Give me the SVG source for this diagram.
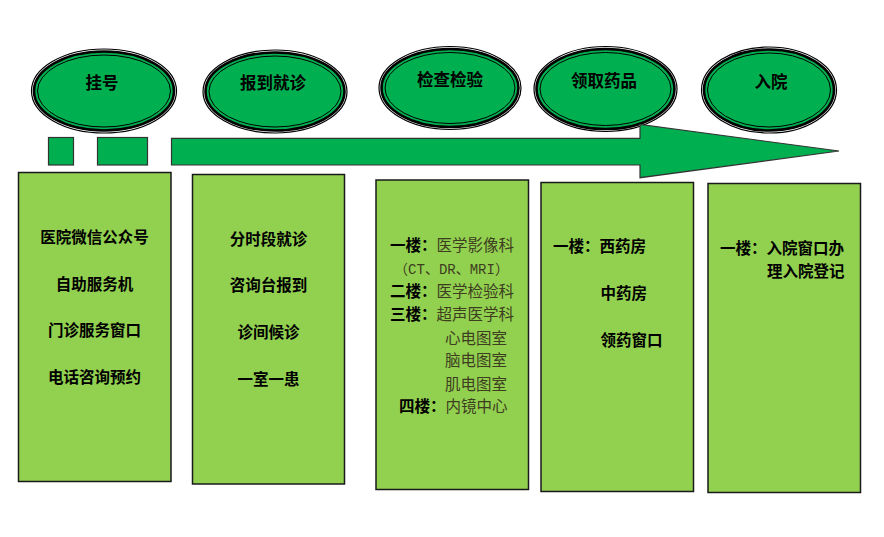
<svg xmlns="http://www.w3.org/2000/svg" width="884" height="537" viewBox="0 0 884 537">
<style>
.e0{fill:#fff;stroke:#000;stroke-width:1.2}
.e1{fill:#00B050;stroke:#000;stroke-width:2.6}
.e2{fill:#00B050;stroke:#000;stroke-width:1}
.et{font-family:"Noto Sans CJK SC",sans-serif;font-weight:bold;font-size:16.5px;fill:#000;text-anchor:middle}
.box{fill:#92D050;stroke:#1a1a1a;stroke-width:1.5}
.bt{font-family:"Noto Sans CJK SC",sans-serif;font-weight:bold;font-size:15.5px;fill:#000}
.c{text-anchor:middle}
.r{font-weight:normal;fill:#3d3d1f}
.dk{fill:#00B050;stroke:#333;stroke-width:1.2}
</style>
<rect width="884" height="537" fill="#fff"/>

<g id="node-guahao">
<ellipse class="e0" cx="104" cy="91" rx="72.5" ry="42"/>
<ellipse class="e1" cx="104" cy="91" rx="70" ry="39.5"/>
<ellipse class="e2" cx="104" cy="91" rx="66.5" ry="36"/>
<text class="et" x="102" y="88.5">挂号</text>
</g>
<g id="node-baodao">
<ellipse class="e0" cx="275" cy="91.5" rx="72" ry="41.5"/>
<ellipse class="e1" cx="275" cy="91.5" rx="69.5" ry="39"/>
<ellipse class="e2" cx="275" cy="91.5" rx="66" ry="35.5"/>
<text class="et" x="273" y="88.5">报到就诊</text>
</g>
<g id="node-jiancha">
<ellipse class="e0" cx="450" cy="88" rx="71" ry="41.5"/>
<ellipse class="e1" cx="450" cy="88" rx="68.5" ry="39"/>
<ellipse class="e2" cx="450" cy="88" rx="65" ry="35.5"/>
<text class="et" x="450" y="86">检查检验</text>
</g>
<g id="node-lingqu">
<ellipse class="e0" cx="605.5" cy="89" rx="71.5" ry="42.5"/>
<ellipse class="e1" cx="605.5" cy="89" rx="69" ry="40"/>
<ellipse class="e2" cx="605.5" cy="89" rx="65.5" ry="36.5"/>
<text class="et" x="604" y="87">领取药品</text>
</g>
<g id="node-ruyuan">
<ellipse class="e0" cx="769" cy="90" rx="67.5" ry="43"/>
<ellipse class="e1" cx="769" cy="90" rx="65" ry="40.5"/>
<ellipse class="e2" cx="769" cy="90" rx="61.5" ry="37"/>
<text class="et" x="771" y="88">入院</text>
</g>

<g id="connectors">
<rect class="dk" x="48.5" y="137.5" width="25" height="27.5"/>
<rect class="dk" x="97.5" y="137.5" width="50" height="27.5"/>
<polygon class="dk" points="171.5,138.3 640,138.3 640,124.5 839,151 640,177.7 640,165 171.5,165"/>
</g>

<g id="box-guahao">
<rect class="box" x="18.5" y="172.5" width="152.5" height="309"/>
<text class="bt c" x="94.5" y="243">医院微信公众号</text>
<text class="bt c" x="94.5" y="289.5">自助服务机</text>
<text class="bt c" x="94.5" y="336">门诊服务窗口</text>
<text class="bt c" x="94.5" y="382.5">电话咨询预约</text>
</g>
<g id="box-baodao">
<rect class="box" x="192.5" y="174.5" width="152" height="309.5"/>
<text class="bt c" x="268.5" y="244.5">分时段就诊</text>
<text class="bt c" x="268.5" y="291">咨询台报到</text>
<text class="bt c" x="268.5" y="338">诊间候诊</text>
<text class="bt c" x="268.5" y="384.5">一室一患</text>
</g>
<g id="box-jiancha">
<rect class="box" x="376" y="180" width="152.5" height="309.5"/>
<text class="bt" x="390" y="251">一楼：<tspan class="r">医学影像科</tspan></text>
<text x="451.5" y="274" font-family="Liberation Mono, Noto Sans CJK SC, monospace" font-size="14" fill="#3d3d1f" text-anchor="middle">（CT、DR、MRI）</text>
<text class="bt" x="390" y="297">二楼：<tspan class="r">医学检验科</tspan></text>
<text class="bt" x="390" y="319.5">三楼：<tspan class="r">超声医学科</tspan></text>
<text class="bt r" x="445" y="343.5">心电图室</text>
<text class="bt r" x="445" y="366">脑电图室</text>
<text class="bt r" x="445" y="389.5">肌电图室</text>
<text class="bt" x="399" y="412">四楼：<tspan class="r">内镜中心</tspan></text>
</g>
<g id="box-lingqu">
<rect class="box" x="541" y="182.5" width="152.5" height="309"/>
<text class="bt" x="553" y="252">一楼：西药房</text>
<text class="bt" x="600.5" y="298.5">中药房</text>
<text class="bt" x="600.5" y="345.5">领药窗口</text>
</g>
<g id="box-ruyuan">
<rect class="box" x="708" y="183.5" width="152.5" height="309"/>
<text class="bt" x="720" y="253.5">一楼：入院窗口办</text>
<text class="bt" x="767" y="277">理入院登记</text>
</g>
</svg>
